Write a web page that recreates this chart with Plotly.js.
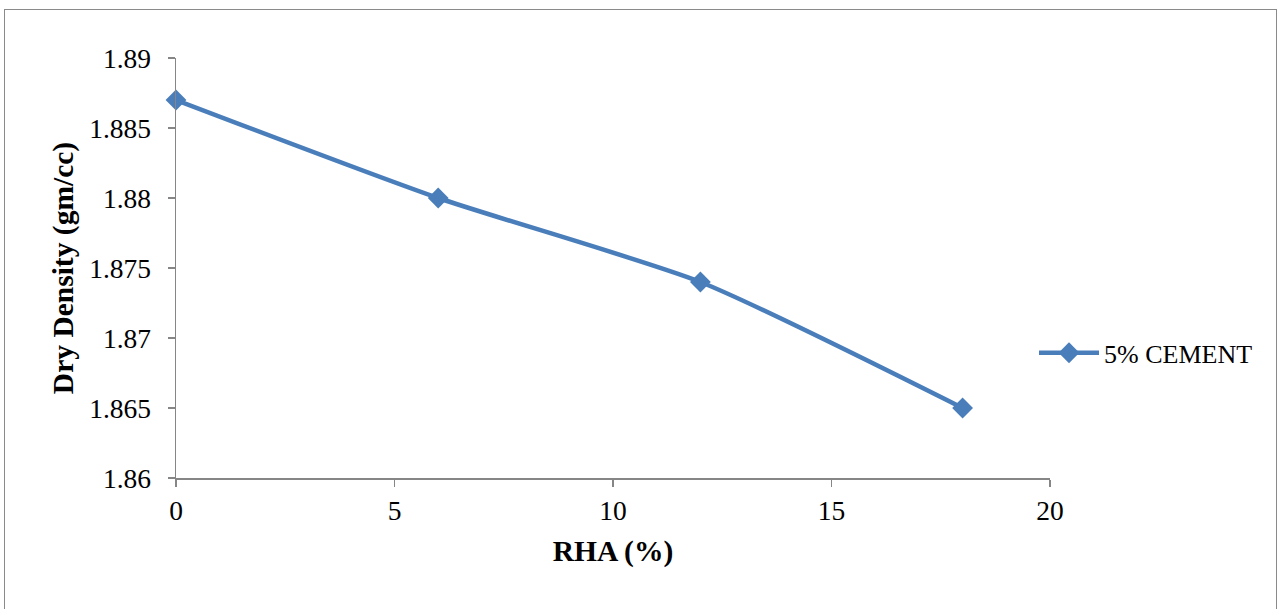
<!DOCTYPE html>
<html>
<head>
<meta charset="utf-8">
<script src="https://cdn.plot.ly/plotly-3.0.1.min.js"></script>
<style>
html,body{margin:0;padding:0;background:#fff;overflow:hidden;}
#chart{width:1282px;height:609px;position:absolute;left:0;top:0;}
#frame{position:absolute;left:4px;top:9px;width:1273px;height:620px;border:1.5px solid #8a8a8a;box-sizing:border-box;pointer-events:none;}
</style>
</head>
<body>
<div id="chart"></div>
<div id="frame"></div>
<script>
const rha = [0, 6, 12, 18];
const dryDensity = [1.887, 1.880, 1.874, 1.865];
const seriesName = '5% CEMENT';
const xTicks = [0, 5, 10, 15, 20];
const yTicks = [1.86, 1.865, 1.87, 1.875, 1.88, 1.885, 1.89];

const font = {family: '"Liberation Serif", "Times New Roman", serif', color: '#000'};

const trace = {
  x: rha, y: dryDensity, name: seriesName,
  type: 'scatter', mode: 'lines+markers', cliponaxis: false,
  line: {color: '#4A7EBB', width: 4.5, shape: 'spline', smoothing: 0.6},
  marker: {symbol: 'diamond', size: 16, color: '#4A7EBB'}
};

const layout = {
  width: 1282, height: 609,
  margin: {l: 176, r: 232, t: 58, b: 131},
  paper_bgcolor: '#fff', plot_bgcolor: '#fff',
  showlegend: true,
  legend: {x: 0.9817, xanchor: 'left', y: 0.298, yanchor: 'middle', xref: 'paper',
    font: Object.assign({}, font, {size: 26}), bgcolor: 'rgba(0,0,0,0)', itemwidth: 60},
  xaxis: {
    range: [0, 20], tickvals: xTicks, ticktext: xTicks.map(String),
    showgrid: false, zeroline: false, showline: true, linecolor: '#868686', linewidth: 1.5,
    ticks: 'outside', ticklen: 7, tickcolor: '#868686', tickwidth: 1.5,
    ticklabelstandoff: 0,
    tickfont: Object.assign({}, font, {size: 27.5}),
    title: {text: '<b>RHA (%)</b>', font: Object.assign({}, font, {size: 29.5}), standoff: 16}
  },
  yaxis: {
    range: [1.86, 1.89], tickvals: yTicks, ticktext: yTicks.map(v => String(v)),
    showgrid: false, zeroline: false, showline: true, linecolor: '#868686', linewidth: 1.5,
    ticks: 'outside', ticklen: 7, tickcolor: '#868686', tickwidth: 1.5,
    ticklabelstandoff: 11,
    tickfont: Object.assign({}, font, {size: 27.5}),
    title: {text: '<b>Dry Density (gm/cc)</b>', font: Object.assign({}, font, {size: 29.5}), standoff: 7}
  }
};

Plotly.newPlot('chart', [trace], layout, {displayModeBar: false, staticPlot: true});
</script>
</body>
</html>
